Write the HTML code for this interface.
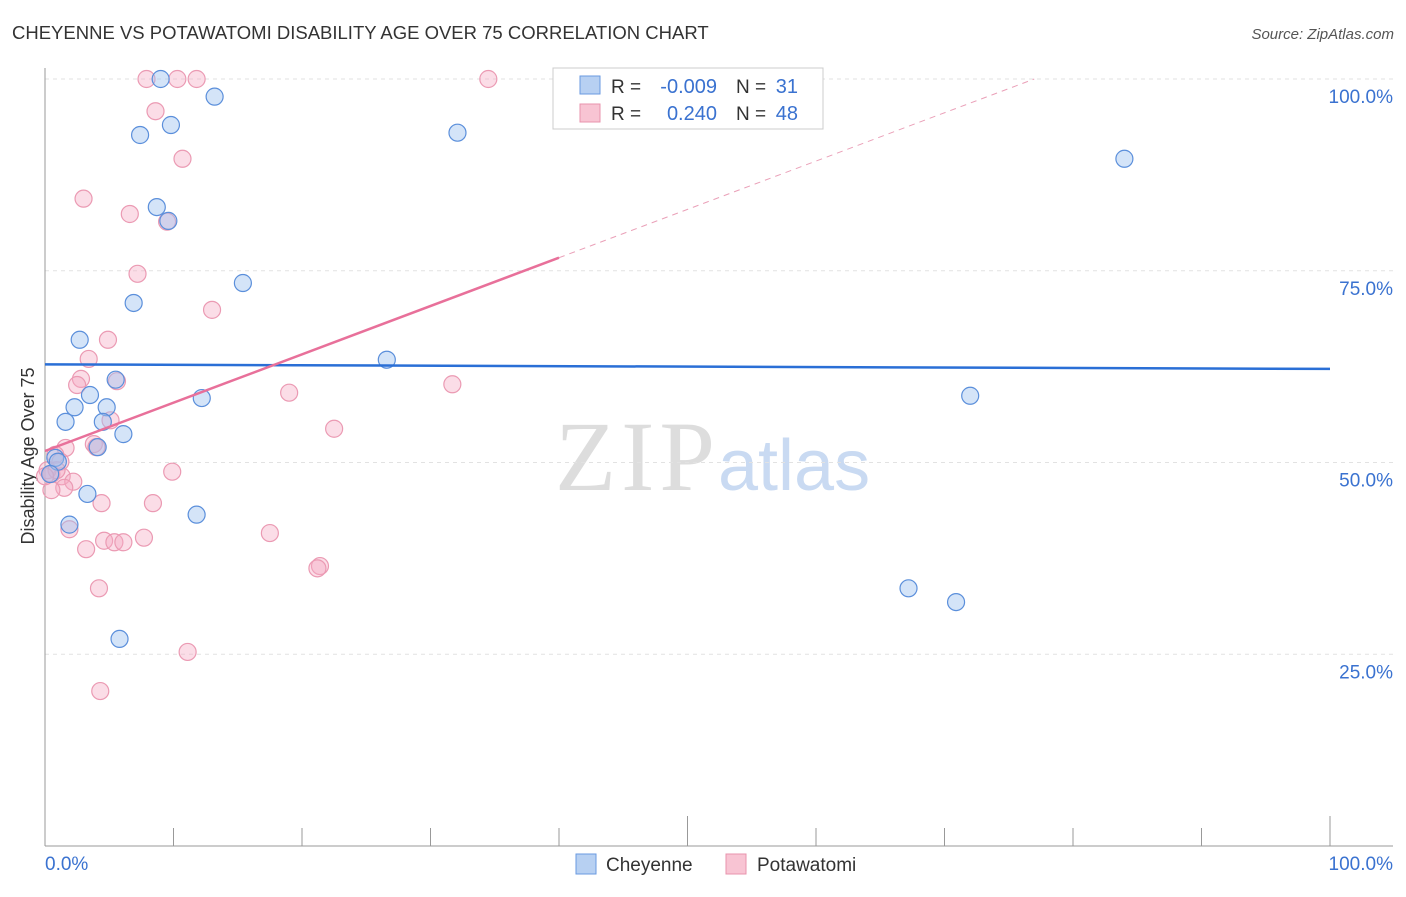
<!DOCTYPE html>
<html><head><meta charset="utf-8"><style>
body{margin:0;background:#fff;font-family:"Liberation Sans",sans-serif}
</style></head><body>
<svg id="c" width="1406" height="892" font-family="Liberation Sans, sans-serif">
<text x="12" y="39" font-size="18.5" fill="#333">CHEYENNE VS POTAWATOMI DISABILITY AGE OVER 75 CORRELATION CHART</text>
<text x="1394" y="39" font-size="15" fill="#555" font-style="italic" text-anchor="end">Source: ZipAtlas.com</text>
<text x="555" y="490" font-size="100" fill="#ddd" style="font-family:'Liberation Serif',serif" textLength="160">ZIP</text>
<text x="718" y="490" font-size="72" fill="#c9daf2">atlas</text>
<text transform="translate(34,456) rotate(-90)" font-size="18" fill="#333" text-anchor="middle">Disability Age Over 75</text>
<g id="grid"></g><g id="pts"></g><g id="lines"></g>
<g>
<rect x="553" y="68" width="270" height="61" fill="#fff" stroke="#ccc"/>
<rect x="580" y="76" width="20" height="18" fill="#b7d0f2" stroke="#6a9ae0"/>
<rect x="580" y="104" width="20" height="18" fill="#f8c4d3" stroke="#e893ad"/>
<text x="611" y="93" font-size="19" fill="#333">R =</text>
<text x="717" y="93" font-size="20" fill="#3a72d0" text-anchor="end">-0.009</text>
<text x="736" y="93" font-size="19" fill="#333">N =</text>
<text x="798" y="93" font-size="20" fill="#3a72d0" text-anchor="end">31</text>
<text x="611" y="120" font-size="19" fill="#333">R =</text>
<text x="717" y="120" font-size="20" fill="#3a72d0" text-anchor="end">0.240</text>
<text x="736" y="120" font-size="19" fill="#333">N =</text>
<text x="798" y="120" font-size="20" fill="#3a72d0" text-anchor="end">48</text>
</g>
<g>
<rect x="576" y="854" width="20" height="20" fill="#b7d0f2" stroke="#6a9ae0"/>
<text x="606" y="871" font-size="19" fill="#333">Cheyenne</text>
<rect x="726" y="854" width="20" height="20" fill="#f8c4d3" stroke="#e893ad"/>
<text x="757" y="871" font-size="19" fill="#333">Potawatomi</text>
</g>
</svg>
<script>
const cheX=[9.0,13.2,7.4,9.8,32.1,84.0,8.7,9.6,15.4,6.9,2.7,26.6,5.5,3.5,12.2,2.3,4.8,1.6,4.5,6.1,4.1,0.8,1.0,3.3,11.8,1.9,67.2,70.9,5.8,72.0,0.4];
const cheY=[100,97.7,92.7,94.0,93.0,89.6,83.3,81.5,73.4,70.8,66.0,63.4,60.8,58.8,58.4,57.2,57.2,55.3,55.3,53.7,52.0,50.6,50.1,45.9,43.2,41.9,33.6,31.8,27.0,58.7,48.5];
const potX=[7.9,10.3,11.8,34.5,8.6,10.7,3.0,6.6,9.5,7.2,13.0,4.9,3.4,5.6,2.8,2.5,19.0,31.7,5.1,3.8,4.0,1.6,22.5,0.8,1.2,9.9,0.5,1.3,2.2,1.5,0.5,8.4,4.4,1.9,7.7,4.6,5.4,6.1,17.5,3.2,21.4,21.2,4.2,11.1,4.3,0.2,0.9,0.0];
const potY=[100,100,100,100,95.8,89.6,84.4,82.4,81.4,74.6,69.9,66.0,63.5,60.6,60.9,60.1,59.1,60.2,55.5,52.4,52.0,51.9,54.4,51.0,50.1,48.8,48.5,48.2,47.5,46.7,46.4,44.7,44.7,41.3,40.2,39.8,39.6,39.6,40.8,38.7,36.5,36.2,33.6,25.3,20.2,49.0,49.0,48.2];
const yTicks=[100,75,50,25];
const xTickLabels=["0.0%","100.0%"];
const cheTrend=[62.8,62.2];
const potTrend=[51.5,0.63];
const NS="http://www.w3.org/2000/svg";
const sx=v=>45+v*12.85, sy=v=>846-v*7.67;
function mk(t,a,p){const e=document.createElementNS(NS,t);for(const k in a)e.setAttribute(k,a[k]);p.appendChild(e);return e;}
const grid=document.getElementById('grid');
yTicks.forEach(t=>{
 const l=mk('line',{x1:45,x2:1393,y1:sy(t),y2:sy(t),stroke:'#e2e2e2','stroke-dasharray':'4,4'},grid);
 
 
 const tx=mk('text',{x:1393,y:sy(t)+24,'font-size':19,fill:'#3a72d0','text-anchor':'end'},grid);
 tx.textContent=t.toFixed(1)+'%';
 
 
});
const ax=mk('line',{x1:45,x2:45,y1:68,y2:846,stroke:'#999'},grid);


const bx=mk('line',{x1:45,x2:1393,y1:846,y2:846,stroke:'#999'},grid);


for(let i=0;i<=10;i++){const t=mk('line',{x1:sx(i*10),x2:sx(i*10),y1:i%5==0?816:828,y2:846,stroke:'#999'},grid);
 
 }
[[0,'start',45],[100,'end',1393]].forEach((d,i)=>{const t=mk('text',{x:d[2],y:870,'font-size':19,fill:'#3a72d0','text-anchor':d[1]},grid);t.textContent=xTickLabels[i];
 
 });
const pts=document.getElementById('pts');
potX.forEach((x,i)=>{const c=mk('circle',{cx:sx(x),cy:sy(potY[i]),r:8.5,fill:'rgba(245,170,195,0.4)',stroke:'#eb9ab3','stroke-width':1.2},pts);
 
 });
cheX.forEach((x,i)=>{const c=mk('circle',{cx:sx(x),cy:sy(cheY[i]),r:8.5,fill:'rgba(160,195,240,0.45)',stroke:'#5b8fdb','stroke-width':1.2},pts);
 
 });
const lines=document.getElementById('lines');
const bl=mk('line',{x1:sx(0),x2:sx(100),y1:sy(cheTrend[0]),y2:sy(cheTrend[1]),stroke:'#2a6fd6','stroke-width':2.5},lines);


const pe=(100-potTrend[0])/potTrend[1];
const pl=mk('line',{x1:sx(0),x2:sx(40),y1:sy(potTrend[0]),y2:sy(potTrend[0]+40*potTrend[1]),stroke:'#e8709a','stroke-width':2.5},lines);


const pd=mk('line',{x1:sx(40),x2:sx(pe),y1:sy(potTrend[0]+40*potTrend[1]),y2:sy(100),stroke:'#eaa0b8','stroke-width':1,'stroke-dasharray':'6,5'},lines);


</script>
</body></html>
